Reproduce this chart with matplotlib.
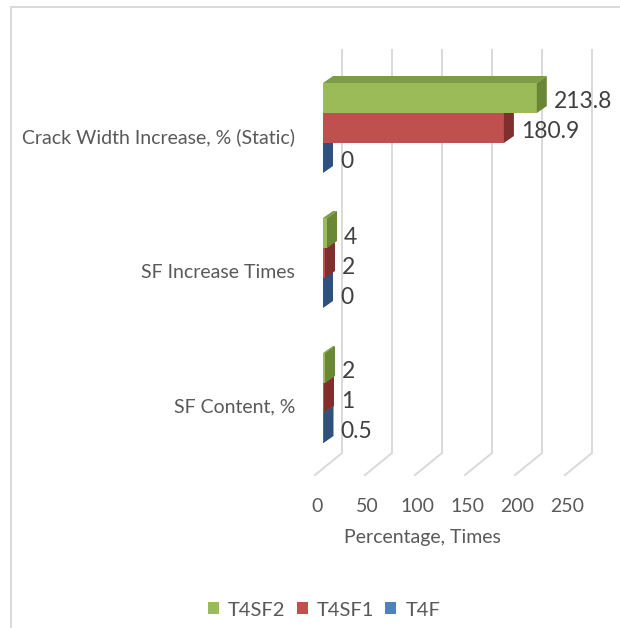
import matplotlib.pyplot as plt
from matplotlib.patches import Polygon, Patch
from matplotlib.lines import Line2D

# data, top group first (as shown in the chart)
categories = ["Crack Width Increase, % (Static)", "SF Increase Times", "SF Content, %"]
series_names = ["T4SF2", "T4SF1", "T4F"]
t4sf2 = [213.8, 4, 2]
t4sf1 = [180.9, 2, 1]
t4f = [0, 0, 0.5]
x_ticks = [0, 50, 100, 150, 200, 250]

# front, top, side shades for the fake 3D look
shades = {
    "T4SF2": ("#9BBB59", "#7E9C48", "#6A8736"),
    "T4SF1": ("#C0504D", "#9B3F3D", "#7F302E"),
    "T4F": ("#4F81BD", "#3E6696", "#2E5180"),
}

plt.rcParams["font.family"] = ["Lato", "DejaVu Sans"]

W, H = 620, 628
fig = plt.figure(figsize=(W / 100, H / 100), dpi=100)
ax = fig.add_axes([0, 0, 1, 1])
# x in data units (1 unit ~ 1 px), y in pixel rows
ax.set_xlim(-323, W - 323)
ax.set_ylim(H, 0)
ax.axis("off")

group_top, group_step, bar_h = 128, 135, 30
dx, dy = 10, -7  # bar depth
wall_dx, floor_dx = 19, -8
wall_top, wall_bottom, floor_front = 50, 453, 475
grid_color = "#D9D9D9"

# back wall + floor gridlines
for t in x_ticks:
    ax.plot([t + wall_dx, t + wall_dx, t + floor_dx],
            [wall_top, wall_bottom, floor_front],
            color=grid_color, lw=1.4, zorder=0, solid_joinstyle="miter")
    ax.text(t - 6, 506, str(t), ha="center", va="center",
            fontsize=14, color="#595959")

ax.text(99, 538, "Percentage, Times", ha="center", va="center",
        fontsize=14, color="#595959")

values = {"T4SF2": t4sf2, "T4SF1": t4sf1, "T4F": t4f}

for k, cat in enumerate(categories):
    center = group_top + k * group_step
    ax.text(-28, center + 9, cat, ha="right", va="center",
            fontsize=14, color="#595959")
    # draw the lower bars first so upper ones cover their tops
    for j in reversed(range(len(series_names))):
        name = series_names[j]
        v = values[name][k]
        front, top, side = shades[name]
        yc = center + (j - 1) * bar_h
        yt, yb = yc - bar_h / 2, yc + bar_h / 2
        ax.add_patch(Polygon([(0, yt), (v, yt), (v, yb), (0, yb)],
                             closed=True, fc=front, ec="none", zorder=3))
        ax.add_patch(Polygon([(0, yt), (v, yt), (v + dx, yt + dy), (dx, yt + dy)],
                             closed=True, fc=top, ec="none", zorder=3))
        ax.add_patch(Polygon([(v, yt), (v + dx, yt + dy), (v + dx, yb + dy), (v, yb)],
                             closed=True, fc=side, ec="none", zorder=3))
        ax.text(v + 17, yc + 4, f"{v:g}", ha="left", va="center",
                fontsize=16.5, color="#404040", zorder=4)

# chart area border (left and top only visible)
fig.add_artist(Line2D([11 / W, 11 / W], [0, 1 - 7 / H], transform=fig.transFigure,
                      color=grid_color, lw=1.4))
fig.add_artist(Line2D([11 / W, 1], [1 - 7 / H, 1 - 7 / H], transform=fig.transFigure,
                      color=grid_color, lw=1.4))

handles = [Patch(fc=shades[n][0], ec="none", label=n) for n in series_names]
fig.legend(handles=handles, loc="center", bbox_to_anchor=(324 / W, 1 - 610 / H),
           ncol=3, frameon=False, fontsize=14.5, handlelength=0.55,
           handleheight=0.55, handletextpad=0.45, columnspacing=0.55,
           labelcolor="#595959", borderpad=0)

fig.savefig("out.png", dpi=100)
